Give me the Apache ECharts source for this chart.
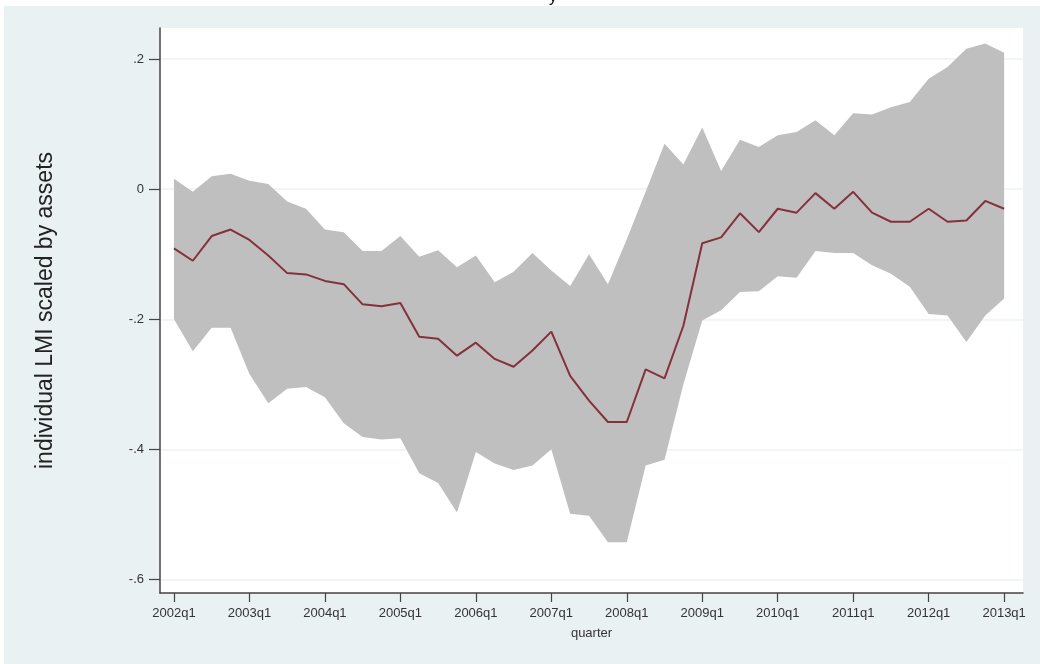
<!DOCTYPE html>
<html>
<head>
<meta charset="utf-8">
<title>individual LMI scaled by assets</title>
<script src="https://cdn.jsdelivr.net/npm/echarts@6/dist/echarts.min.js"></script>
<style>
  html, body { margin: 0; padding: 0; background: #fff; }
  #main { width: 1040px; height: 664px; }
</style>
</head>
<body>
<div id="main"></div>
<script>
// quarters 2002q1 .. 2013q1, index 0..44
var xTickLabels = ['2002q1', '2003q1', '2004q1', '2005q1', '2006q1', '2007q1',
  '2008q1', '2009q1', '2010q1', '2011q1', '2012q1', '2013q1'];
var yTickValues = [-0.6, -0.4, -0.2, 0, 0.2];
var yTickLabels = ['-.6', '-.4', '-.2', '0', '.2'];

// point estimate
var meanValues = [
  -0.091, -0.110, -0.072, -0.062, -0.078, -0.102, -0.129, -0.131, -0.141, -0.146,
  -0.177, -0.180, -0.175, -0.227, -0.230, -0.256, -0.236, -0.261, -0.273, -0.248,
  -0.219, -0.287, -0.325, -0.358, -0.358, -0.277, -0.291, -0.210, -0.083, -0.074,
  -0.037, -0.066, -0.030, -0.036, -0.006, -0.030, -0.004, -0.036, -0.050, -0.050,
  -0.030, -0.050, -0.048, -0.018, -0.030
];
// upper bound of the band
var upperValues = [
  0.016, -0.004, 0.020, 0.024, 0.013, 0.008, -0.019, -0.030, -0.062, -0.066,
  -0.095, -0.095, -0.072, -0.104, -0.094, -0.120, -0.102, -0.143, -0.127, -0.098,
  -0.125, -0.149, -0.100, -0.146, -0.077, -0.004, 0.070, 0.038, 0.095, 0.028,
  0.076, 0.065, 0.083, 0.088, 0.106, 0.083, 0.117, 0.115, 0.126, 0.134,
  0.170, 0.188, 0.216, 0.224, 0.210
];
// lower bound of the band
var lowerValues = [
  -0.200, -0.249, -0.213, -0.213, -0.284, -0.329, -0.307, -0.304, -0.320, -0.360,
  -0.381, -0.385, -0.383, -0.437, -0.452, -0.497, -0.404, -0.422, -0.432, -0.425,
  -0.400, -0.499, -0.502, -0.543, -0.543, -0.425, -0.416, -0.300, -0.202, -0.186,
  -0.158, -0.157, -0.134, -0.136, -0.095, -0.098, -0.098, -0.117, -0.130, -0.150,
  -0.192, -0.194, -0.235, -0.194, -0.168
];

var xTickValues = xTickLabels.map(function (l, i) { return i * 4; });

var bandData = upperValues.map(function (v, i) { return [i, lowerValues[i], v]; });
var meanData = meanValues.map(function (v, i) { return [i, v]; });

var font = '"Liberation Sans", Arial, sans-serif';

// whole band as one polygon: upper edge left->right, lower edge right->left
function renderBand(params, api) {
  if (params.dataIndex !== 0) return null;
  var pts = [];
  var i;
  for (i = 0; i < bandData.length; i++) {
    pts.push(api.coord([bandData[i][0], bandData[i][2]]));
  }
  for (i = bandData.length - 1; i >= 0; i--) {
    pts.push(api.coord([bandData[i][0], bandData[i][1]]));
  }
  return {
    type: 'polygon',
    shape: { points: pts },
    style: { fill: '#bfbfbf', stroke: null }
  };
}

var chart = echarts.init(document.getElementById('main'));
var option = {
  backgroundColor: '#ffffff',
  animation: false,
  title: {
    text: 'y',
    left: 544,
    top: -15,
    textStyle: { fontSize: 16, fontWeight: 'normal', fontFamily: font, color: '#111' }
  },
  graphic: [
    {
      type: 'rect',
      left: 4, top: 6,
      shape: { width: 1036, height: 658 },
      style: { fill: '#eaf1f3' },
      z: -10
    }
  ],
  grid: {
    left: 160, right: 17, top: 28, bottom: 71,
    show: true,
    backgroundColor: '#ffffff',
    borderWidth: 0
  },
  xAxis: {
    type: 'value',
    min: -0.74,
    max: 45.0,
    name: 'quarter',
    nameLocation: 'middle',
    nameGap: 34,
    nameTextStyle: { fontSize: 13, fontFamily: font, color: '#333' },
    axisLine: { show: true, onZero: false, lineStyle: { color: '#444', width: 1.5 } },
    axisTick: { show: true, length: 9, customValues: xTickValues, lineStyle: { color: '#444', width: 1.2 } },
    axisLabel: {
      customValues: xTickValues,
      margin: 14,
      fontSize: 13,
      fontFamily: font,
      color: '#333',
      formatter: function (v) { return xTickLabels[Math.round(v / 4)]; }
    },
    splitLine: { show: false }
  },
  yAxis: {
    type: 'value',
    min: -0.621,
    max: 0.248,
    name: 'individual LMI scaled by assets',
    nameLocation: 'middle',
    nameGap: 103,
    nameRotate: 90,
    nameTextStyle: { fontSize: 23, fontFamily: font, color: '#222' },
    axisLine: { show: true, onZero: false, lineStyle: { color: '#444', width: 1.5 } },
    axisTick: { show: true, length: 11, customValues: yTickValues, lineStyle: { color: '#444', width: 1.2 } },
    axisLabel: {
      customValues: yTickValues,
      margin: 16,
      fontSize: 13,
      fontFamily: font,
      color: '#333',
      formatter: function (v) {
        var k = 0;
        for (var i = 0; i < yTickValues.length; i++) {
          if (Math.abs(yTickValues[i] - v) < 1e-6) k = i;
        }
        return yTickLabels[k];
      }
    },
    splitLine: { show: true, lineStyle: { color: '#eef2f3', width: 1.5 } }
  },
  series: [
    {
      name: 'band',
      type: 'custom',
      renderItem: renderBand,
      data: bandData,
      encode: { x: 0, y: [1, 2] },
      silent: true,
      z: 2
    },
    {
      name: 'estimate',
      type: 'line',
      data: meanData,
      symbol: 'none',
      lineStyle: { color: '#86303e', width: 2 },
      z: 5
    }
  ]
};
chart.setOption(option);
</script>
</body>
</html>
